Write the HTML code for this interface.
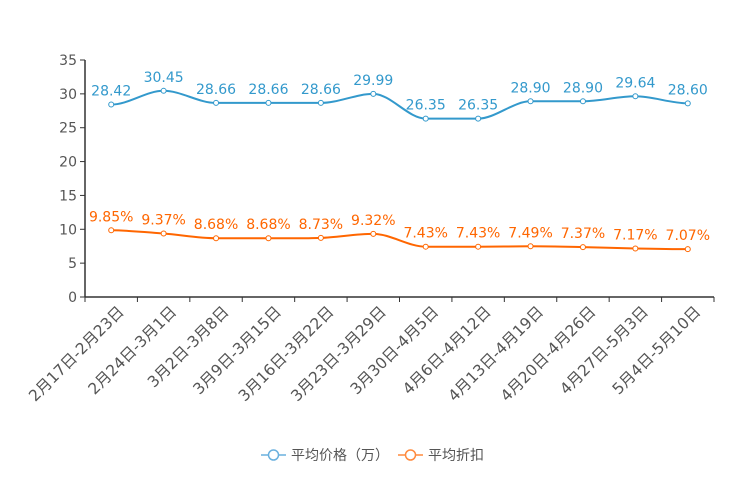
<!DOCTYPE html>
<html><head><meta charset="utf-8">
<style>
body{margin:0;background:#fff;}
svg{display:block;font-family:"DejaVu Sans","Noto Sans CJK SC",sans-serif;}
</style></head>
<body>
<svg id="chart" width="744" height="496" viewBox="0 0 744 496"></svg>
<script>
const categories=["2月17日-2月23日","2月24日-3月1日","3月2日-3月8日","3月9日-3月15日","3月16日-3月22日","3月23日-3月29日","3月30日-4月5日","4月6日-4月12日","4月13日-4月19日","4月20日-4月26日","4月27日-5月3日","5月4日-5月10日"];
const priceValues=[28.42,30.45,28.66,28.66,28.66,29.99,26.35,26.35,28.90,28.90,29.64,28.60];
const discountValues=[9.85,9.37,8.68,8.68,8.73,9.32,7.43,7.43,7.49,7.37,7.17,7.07];
const yTicks=[0,5,10,15,20,25,30,35];
const svg=document.getElementById('chart');
const NS='http://www.w3.org/2000/svg';
const X0=85,X1=714,Y0=297,Y1=60,YMAX=35;
const band=(X1-X0)/categories.length;
const xs=i=>X0+band*(i+0.5);
const ys=v=>Y0-(v/YMAX)*(Y0-Y1);
function mk(tag,attrs,parent){const e=document.createElementNS(NS,tag);for(const k in attrs)e.setAttribute(k,attrs[k]);(parent||svg).appendChild(e);return e;}
const yAxis=mk('g',{});


mk('line',{x1:X0,y1:Y1,x2:X0,y2:Y0,stroke:'#333','stroke-width':1.5},yAxis);
yTicks.forEach(t=>{
  mk('line',{x1:X0-5,y1:ys(t),x2:X0,y2:ys(t),stroke:'#333'},yAxis);
  const tx=mk('text',{x:X0-8,y:ys(t)+5,'text-anchor':'end','font-size':14,fill:'#555'},yAxis);
  tx.textContent=t;
  
  
});
const xAxis=mk('g',{});


mk('line',{x1:X0,y1:Y0,x2:X1,y2:Y0,stroke:'#333','stroke-width':1.5},xAxis);
for(let i=0;i<=categories.length;i++)mk('line',{x1:X0+band*i,y1:Y0,x2:X0+band*i,y2:Y0+5,stroke:'#333'},xAxis);
categories.forEach((c,i)=>{
  const x=xs(i)+6,y=Y0+8;
  const tx=mk('text',{x:x,y:y,'text-anchor':'end','font-size':15.5,fill:'#555',transform:`rotate(-45 ${x} ${y})`,dy:'0.7em'},xAxis);
  tx.textContent=c;
  
  
});
function smooth(pts){
  const n=pts.length,m=[];
  for(let i=0;i<n;i++){
    if(i===0||i===n-1){m.push(0);continue;}
    const d0=pts[i][1]-pts[i-1][1],d1=pts[i+1][1]-pts[i][1];
    m.push(d0*d1<=0?0:(d0+d1)/2);
  }
  let d=`M${pts[0][0]},${pts[0][1]}`;
  for(let i=0;i<n-1;i++){
    const p1=pts[i],p2=pts[i+1],h=(p2[0]-p1[0])/3;
    d+=` C${p1[0]+h},${p1[1]+m[i]/3} ${p2[0]-h},${p2[1]-m[i+1]/3} ${p2[0]},${p2[1]}`;
  }
  return d;
}
function series(vals,color,name,fmt){
  const g=mk('g',{});
  
  
  const pts=vals.map((v,i)=>[xs(i),ys(v)]);
  mk('path',{d:smooth(pts),fill:'none',stroke:color,'stroke-width':2},g);
  pts.forEach((p,i)=>{
    const c=mk('circle',{cx:p[0],cy:p[1],r:2.5,fill:'#fff',stroke:color,'stroke-width':1},g);
    
    
    const t=mk('text',{x:p[0],y:p[1]-9,'text-anchor':'middle','font-size':14,fill:color},g);
    t.textContent=fmt(vals[i]);
    
    
  });
}
series(priceValues,'#3399cc','price-series',v=>v.toFixed(2));
series(discountValues,'#ff6600','discount-series',v=>v.toFixed(2)+'%');
function legend(x,color,label,name){
  const g=mk('g',{});
  
  
  mk('line',{x1:x,y1:455,x2:x+25,y2:455,stroke:color,'stroke-width':1.5},g);
  mk('circle',{cx:x+12.5,cy:455,r:5,fill:'#fff',stroke:color,'stroke-width':1.5},g);
  const t=mk('text',{x:x+30,y:460,'font-size':14,fill:'#555'},g);
  t.textContent=label;
}
legend(261,'#6ab0de','平均价格（万）','legend-price');
legend(398,'#ff8a3d','平均折扣','legend-discount');
</script>
</body></html>
